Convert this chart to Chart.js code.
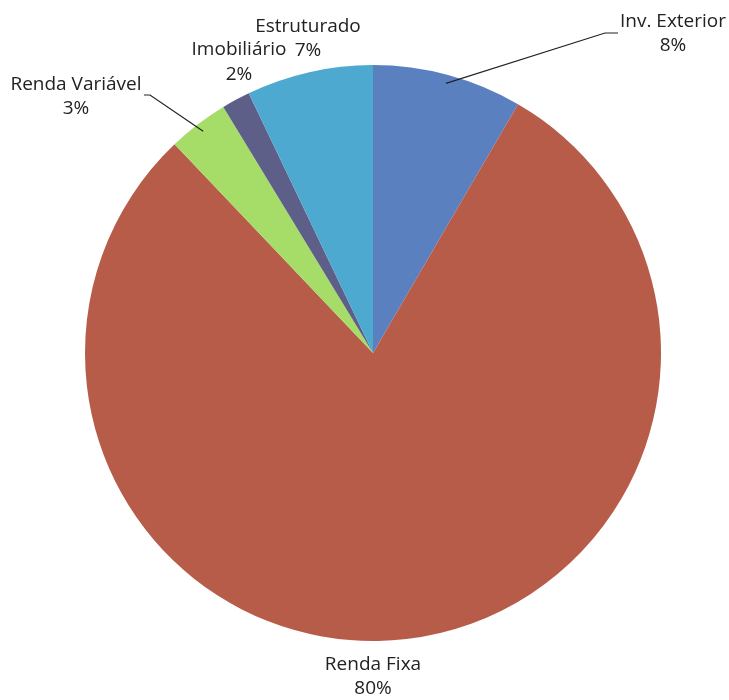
<!DOCTYPE html>
<html>
<head>
<meta charset="utf-8">
<script src="https://cdn.jsdelivr.net/npm/chart.js@4"></script>
<style>
  html, body { margin: 0; padding: 0; background: #fff; }
  #wrap { position: relative; width: 729px; height: 700px; }
</style>
</head>
<body>
<div id="wrap"><canvas id="pie-chart"></canvas></div>
<script>
// data (clockwise from 12 o'clock)
const categories = ["Inv. Exterior", "Renda Fixa", "Renda Variável", "Imobiliário", "Estruturado"];
const shares = [8.4, 79.5, 3.4, 1.6, 7.1];
const shareLabels = ["8%", "80%", "3%", "2%", "7%"];
const sliceColors = ["#5a80c0", "#b85c4a", "#a6dd68", "#5d5f88", "#4ea9d0"];

// label placement: text centre for each slice, plus optional leader line
const labelSpots = [
  { x: 673, y: 22, leader: [[0.5], [605, 33], [618, 33]] },
  { x: 373, y: 665 },
  { x: 76, y: 85, leader: [[0.5], [150, 95], [144, 95]] },
  { x: 239, y: 50 },
  { x: 308, y: 27 }
];

const FONT = '19px "Open Sans", sans-serif';

const pieLabels = {
  id: "pieLabels",
  afterDatasetsDraw(chart) {
    const ctx = chart.ctx;
    const meta = chart.getDatasetMeta(0);
    ctx.save();
    ctx.fillStyle = "#222";
    ctx.strokeStyle = "#222";
    ctx.lineWidth = 1.2;
    ctx.font = FONT;
    ctx.textAlign = "center";
    ctx.textBaseline = "middle";
    meta.data.forEach((arc, i) => {
      const spot = labelSpots[i];
      if (spot.leader) {
        // first leader point sits on the arc edge, at a fraction along the slice
        const [frac] = spot.leader[0];
        const ang = arc.startAngle + (arc.endAngle - arc.startAngle) * frac;
        const r = arc.outerRadius * 0.97;
        ctx.beginPath();
        ctx.moveTo(arc.x + Math.cos(ang) * r, arc.y + Math.sin(ang) * r);
        spot.leader.slice(1).forEach(p => ctx.lineTo(p[0], p[1]));
        ctx.stroke();
      }
      const gap = i === 3 ? 25 : 24;
      ctx.fillText(categories[i], spot.x, spot.y);
      ctx.fillText(shareLabels[i], spot.x, spot.y + gap);
    });
    ctx.restore();
  }
};

new Chart(document.getElementById("pie-chart").getContext("2d"), {
  type: "pie",
  data: {
    labels: categories,
    datasets: [
      {
        data: shares,
        backgroundColor: sliceColors,
        borderWidth: 0
      }
    ]
  },
  options: {
    responsive: true,
    maintainAspectRatio: false,
    animation: false,
    layout: { padding: { left: 85, right: 68, top: 65, bottom: 59 } },
    plugins: {
      legend: { display: false },
      tooltip: { enabled: false }
    }
  },
  plugins: [pieLabels]
});
</script>
</body>
</html>
